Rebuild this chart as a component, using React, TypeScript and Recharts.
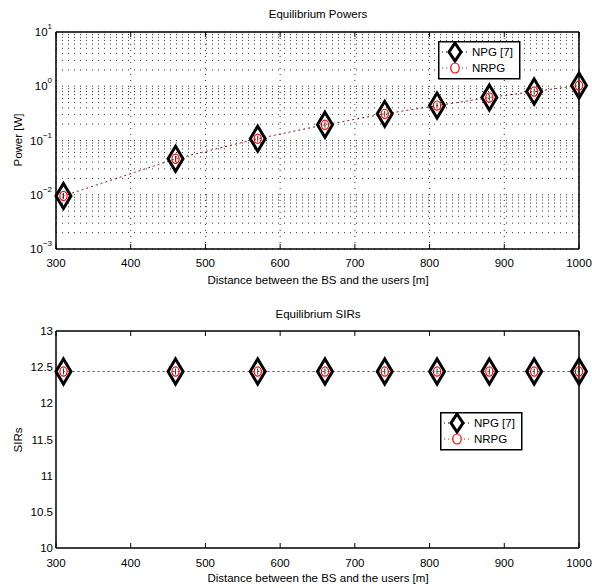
import { LineChart, Line, XAxis, YAxis, CartesianGrid, ReferenceLine } from 'recharts'

// distances [m] where both algorithms were evaluated
const distances = [310, 460, 570, 660, 740, 810, 880, 940, 1000]

// equilibrium powers [W]
const powerNPG  = [0.0095, 0.046, 0.108, 0.195, 0.31, 0.44, 0.62, 0.8, 1.03]
const powerNRPG = [0.0095, 0.046, 0.108, 0.195, 0.31, 0.44, 0.62, 0.8, 1.03]

// equilibrium SIRs
const sirNPG  = [12.44, 12.44, 12.44, 12.44, 12.44, 12.44, 12.44, 12.44, 12.44]
const sirNRPG = [12.44, 12.44, 12.44, 12.44, 12.44, 12.44, 12.44, 12.44, 12.44]

const xTicks = [300, 400, 500, 600, 700, 800, 900, 1000]
const powerTicks = [0.001, 0.01, 0.1, 1, 10]
const minorMult = [2, 3, 4, 5, 6, 7, 8, 9]
const powerMinor = [0.001, 0.01, 0.1, 1].flatMap(d => minorMult.map(m => d * m))
const powerAll = [...powerTicks, ...powerMinor].sort((a, b) => a - b)
const sirTicks = [10, 10.5, 11, 11.5, 12, 12.5, 13]

const powerData = distances.map((d, i) => ({ d, npg: powerNPG[i], nrpg: powerNRPG[i] }))
const sirData = distances.map((d, i) => ({ d, npg: sirNPG[i], nrpg: sirNRPG[i] }))

const FS = 11.5
const FONT = '"Liberation Sans", Arial, Helvetica, sans-serif'
const axisLine = { stroke: '#000', strokeWidth: 1.5 }
const GRID = { stroke: '#333', strokeDasharray: '1 5', strokeWidth: 1 }

// draws the inward tick mark itself (dx, dy = direction and length)
function TickMark({ x, y, dx = 0, dy = 0 }: any) {
  return <line x1={x} y1={y} x2={x + dx} y2={y + dy} stroke="#000" strokeWidth={1} />
}

function Diamond(props: any) {
  const { cx, cy } = props
  if (cx == null || cy == null) return <g />
  const w = 7.5, h = 12.5
  return (
    <g>
      <polygon
        points={`${cx},${cy - h} ${cx + w},${cy} ${cx},${cy + h} ${cx - w},${cy}`}
        fill="none" stroke="#000" strokeWidth={3} strokeLinejoin="miter"
      />
      <line x1={cx} y1={cy - 3} x2={cx} y2={cy + 3} stroke="#333" strokeWidth={1} />
    </g>
  )
}

function RedCircle(props: any) {
  const { cx, cy } = props
  if (cx == null || cy == null) return <g />
  return <ellipse cx={cx} cy={cy} rx={3.6} ry={4.6} fill="none" stroke="#ff0000" strokeWidth={1.2} />
}

function LogTick({ x, y, payload }: any) {
  const exp = Math.round(Math.log10(payload.value))
  return (
    <text x={x} y={y + 4} textAnchor="end" fontSize={FS} fill="#000">
      <tspan>10</tspan>
      <tspan dy={-7} fontSize={8}>{exp < 0 ? `\u2212${-exp}` : `${exp}`}</tspan>
    </text>
  )
}

function NumTick({ x, y, payload }: any) {
  return (
    <text x={x} y={y + 4} textAnchor="end" fontSize={FS} fill="#000">{payload.value}</text>
  )
}

function LegendBox({ left, top }: { left: number; top: number }) {
  const rows = [
    { name: 'NPG [7]', y: 11, kind: 'diamond' },
    { name: 'NRPG', y: 27, kind: 'circle' },
  ]
  return (
    <svg width={84} height={40} style={{ position: 'absolute', left, top }}>
      <rect x={0.75} y={0.75} width={81} height={37} fill="#fff" stroke="#000" strokeWidth={1.5} />
      {rows.map(r => (
        <g key={r.name}>
          <line x1={4} y1={r.y} x2={30} y2={r.y}
            stroke={r.kind === 'diamond' ? '#000' : '#ff0000'} strokeDasharray="1 3" />
          {r.kind === 'diamond'
            ? <polygon points={`17,${r.y - 9} 23,${r.y} 17,${r.y + 9} 11,${r.y}`}
                fill="#fff" stroke="#000" strokeWidth={3} />
            : <ellipse cx={17} cy={r.y} rx={4.2} ry={5} fill="#fff" stroke="#ff0000" strokeWidth={1.2} />}
          <text x={34} y={r.y + 4} fontSize={FS} fill="#000">{r.name}</text>
        </g>
      ))}
    </svg>
  )
}

const textStyle = (left: number, top: number, width: number): React.CSSProperties => ({
  position: 'absolute', left, top, width, textAlign: 'center',
  fontSize: FS, lineHeight: '14px', color: '#000', whiteSpace: 'nowrap',
})

// x axes shared by both panels: labelled bottom, inward bottom ticks, boxed top
function xAxes(margin: number) {
  return [
    <XAxis key="xb" xAxisId="xb" dataKey="d" type="number" domain={[300, 1000]} ticks={xTicks} interval={0}
      height={30} tickLine={false} tickSize={0} tickMargin={margin} axisLine={axisLine}
      tick={{ fontSize: FS, fill: '#000' }} />,
    <XAxis key="xin" xAxisId="xin" dataKey="d" type="number" domain={[300, 1000]} ticks={xTicks} interval={0}
      mirror tickLine={false} tickSize={0} tickMargin={0} axisLine={false} tick={<TickMark dy={-5} />} />,
    <XAxis key="xt" xAxisId="xt" dataKey="d" type="number" domain={[300, 1000]} ticks={xTicks} interval={0}
      orientation="top" mirror tickLine={false} tickSize={0} tickMargin={0} axisLine={axisLine}
      tick={<TickMark dy={5} />} />,
  ]
}

export default function App() {
  return (
    <div style={{ position: 'absolute', left: 0, top: 0, width: 592, height: 588, background: '#fff', fontFamily: FONT }}>

      {/* ---------- Equilibrium Powers ---------- */}
      <div style={{ position: 'absolute', left: 0, top: 0 }}>
        <LineChart width={592} height={295} data={powerData}
          margin={{ top: 32, right: 13, bottom: 16, left: 0 }}>
          <CartesianGrid xAxisId="xin" horizontal={false} {...GRID} />
          {xAxes(10)}
          <YAxis yAxisId="yl" type="number" scale="log" domain={[0.001, 10]} ticks={powerTicks} interval={0}
            width={56} tickLine={false} tickSize={0} tickMargin={4} axisLine={axisLine} tick={<LogTick />} />
          <YAxis yAxisId="ylmaj" type="number" scale="log" domain={[0.001, 10]} ticks={powerTicks} interval={0}
            mirror tickLine={false} tickSize={0} tickMargin={0} axisLine={false} tick={<TickMark dx={6} />} />
          <YAxis yAxisId="ylmin" type="number" scale="log" domain={[0.001, 10]} ticks={powerMinor} interval={0}
            mirror tickLine={false} tickSize={0} tickMargin={0} axisLine={false} tick={<TickMark dx={3} />} />
          <YAxis yAxisId="yr" orientation="right" type="number" scale="log" domain={[0.001, 10]} ticks={powerTicks}
            interval={0} mirror tickLine={false} tickSize={0} tickMargin={0} axisLine={axisLine}
            tick={<TickMark dx={-6} />} />
          <YAxis yAxisId="yrmin" orientation="right" type="number" scale="log" domain={[0.001, 10]} ticks={powerMinor}
            interval={0} mirror tickLine={false} tickSize={0} tickMargin={0} axisLine={false}
            tick={<TickMark dx={-3} />} />
          {powerAll.map(v => (
            <ReferenceLine key={v} xAxisId="xb" yAxisId="yl" y={v} {...GRID} />
          ))}
          <Line xAxisId="xb" yAxisId="yl" dataKey="npg" stroke="#000" strokeWidth={1} strokeDasharray="1 4"
            dot={(p: any) => <Diamond key={`pd${p.index}`} {...p} />} activeDot={false} isAnimationActive={false} />
          <Line xAxisId="xb" yAxisId="yl" dataKey="nrpg" stroke="#ff0000" strokeWidth={1} strokeDasharray="1 4"
            strokeDashoffset={1}
            dot={(p: any) => <RedCircle key={`pc${p.index}`} {...p} />} activeDot={false} isAnimationActive={false} />
        </LineChart>
      </div>

      {/* ---------- Equilibrium SIRs ---------- */}
      <div style={{ position: 'absolute', left: 0, top: 300 }}>
        <LineChart width={592} height={288} data={sirData}
          margin={{ top: 31, right: 13, bottom: 10, left: 0 }}>
          {xAxes(11)}
          <YAxis yAxisId="yl" type="number" domain={[10, 13]} ticks={sirTicks} interval={0}
            width={56} tickLine={false} tickSize={0} tickMargin={3} axisLine={axisLine} tick={<NumTick />} />
          <YAxis yAxisId="ylin" type="number" domain={[10, 13]} ticks={sirTicks} interval={0}
            mirror tickLine={false} tickSize={0} tickMargin={0} axisLine={false} tick={<TickMark dx={5} />} />
          <YAxis yAxisId="yr" orientation="right" type="number" domain={[10, 13]} ticks={sirTicks} interval={0}
            mirror tickLine={false} tickSize={0} tickMargin={0} axisLine={axisLine} tick={<TickMark dx={-5} />} />
          <Line xAxisId="xb" yAxisId="yl" dataKey="npg" stroke="#000" strokeWidth={1} strokeDasharray="1 4"
            dot={(p: any) => <Diamond key={`sd${p.index}`} {...p} />} activeDot={false} isAnimationActive={false} />
          <Line xAxisId="xb" yAxisId="yl" dataKey="nrpg" stroke="#ff0000" strokeWidth={1} strokeDasharray="1 4"
            strokeDashoffset={1}
            dot={(p: any) => <RedCircle key={`sc${p.index}`} {...p} />} activeDot={false} isAnimationActive={false} />
        </LineChart>
      </div>

      {/* titles and axis labels */}
      <div style={textStyle(218, 7, 200)}>Equilibrium Powers</div>
      <div style={textStyle(168, 273, 300)}>Distance between the BS and the users [m]</div>
      <div style={{ ...textStyle(-42, 133, 120), transform: 'rotate(-90deg)' }}>Power [W]</div>

      <div style={textStyle(218, 307, 200)}>Equilibrium SIRs</div>
      <div style={textStyle(168, 571, 300)}>Distance between the BS and the users [m]</div>
      <div style={{ ...textStyle(-42, 433, 120), transform: 'rotate(-90deg)' }}>SIRs</div>

      <LegendBox left={438} top={41} />
      <LegendBox left={440} top={412} />
    </div>
  )
}
